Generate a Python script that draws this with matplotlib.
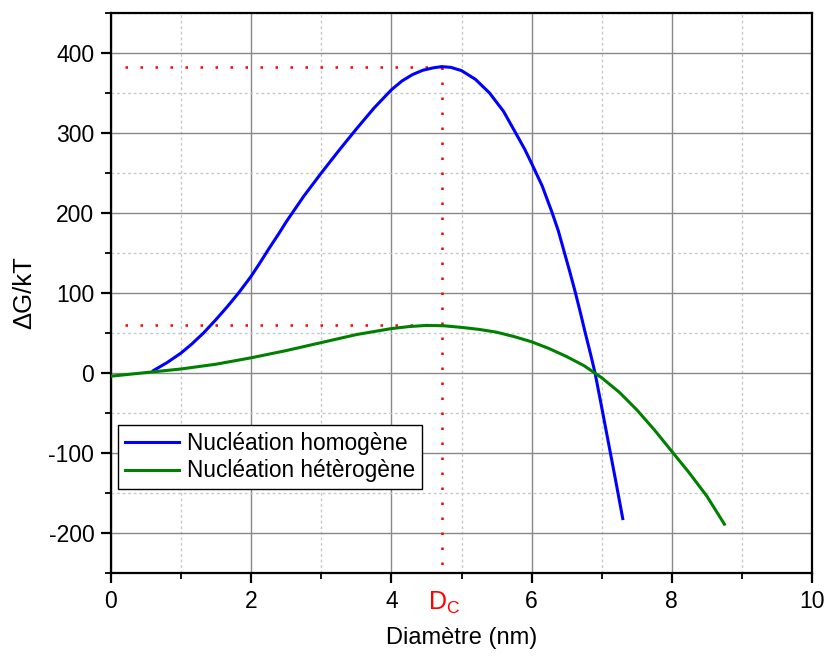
import matplotlib
matplotlib.use("Agg")
import matplotlib.pyplot as plt
from matplotlib.ticker import MultipleLocator

plt.rcParams['font.family'] = ['Liberation Sans', 'DejaVu Sans']
plt.rcParams['axes.unicode_minus'] = False

# Homogeneous nucleation curve
homo_d = [0.605, 0.8, 1.0, 1.15, 1.32, 1.5, 1.66, 1.82, 2.0, 2.12, 2.25, 2.4, 2.5,
          2.75, 3.0, 3.25, 3.5, 3.75, 4.0, 4.15, 4.3, 4.45, 4.6, 4.72, 4.85,
          5.0, 5.2, 5.4, 5.6, 5.76, 5.9, 6.0, 6.15, 6.286, 6.38, 6.46, 6.54,
          6.62, 6.7, 6.76, 6.84, 6.905, 7.0, 7.1, 7.2, 7.3]
homo_g = [3, 13, 25, 36, 50, 67, 83, 100, 121, 137, 155, 175, 189,
          221, 250, 278, 305, 331, 354, 365, 373, 378.5, 381.5, 383, 382,
          378, 367, 350, 327, 302, 280, 262, 234, 202, 178, 153, 128,
          102, 74, 52, 24, 0, -43, -89, -135, -182]

# Heterogeneous nucleation curve
het_d = [0.0, 0.5, 1.0, 1.5, 2.0, 2.5, 3.0, 3.5, 4.0, 4.25, 4.5, 4.75, 5.0,
         5.25, 5.5, 5.75, 6.0, 6.25, 6.5, 6.75, 6.9, 7.0, 7.25, 7.5, 7.75,
         8.0, 8.25, 8.5, 8.75]
het_g = [-4, 0.5, 5, 11, 19, 28, 38, 48, 55.5, 58, 59.5, 59, 57,
         54.5, 51, 45.5, 39, 30.5, 20.5, 9, 0, -6, -24, -46, -71,
         -98, -125, -154, -189]

d_crit = 4.72
g_homo_max = 383
g_het_max = 60
x_guide_start = 0.2

fig = plt.figure(figsize=(8.27, 6.57), dpi=100)
ax = fig.add_axes([0.1342, 0.1279, 0.8477, 0.8523])

ax.plot(homo_d, homo_g, color='#0000ff', lw=2.2, label='Nucléation homogène', zorder=4)
ax.plot(het_d, het_g, color='#008000', lw=2.2, label='Nucléation hétèrogène', zorder=4)

dot = (0, (1, 5))
ax.plot([x_guide_start, d_crit], [g_homo_max, g_homo_max], color='red', lw=1.8, ls=dot, zorder=3)
ax.plot([x_guide_start, d_crit], [g_het_max, g_het_max], color='red', lw=1.8, ls=dot, zorder=3)
ax.plot([d_crit, d_crit], [g_homo_max, -250], color='red', lw=1.8, ls=dot, zorder=3, clip_on=False)

ax.set_xlim(0, 10)
ax.set_ylim(-250, 450)
ax.xaxis.set_major_locator(MultipleLocator(2))
ax.xaxis.set_minor_locator(MultipleLocator(1))
ax.yaxis.set_major_locator(MultipleLocator(100))
ax.yaxis.set_minor_locator(MultipleLocator(50))
ax.set_yticks([-200, -100, 0, 100, 200, 300, 400])

ax.grid(which='major', color='#888888', lw=1.0, ls='-', zorder=0)
ax.grid(which='minor', color='#c8c8c8', lw=1.0, ls=(0, (2, 2)), zorder=0)
ax.set_axisbelow(True)

for s in ax.spines.values():
    s.set_linewidth(1.6)
    s.set_color('black')

ax.tick_params(which='major', direction='out', length=7, width=1.6, labelsize=16.5, pad=5)
ax.tick_params(which='minor', direction='out', length=4, width=1.3)

ax.set_xlabel('Diamètre (nm)', fontsize=17, labelpad=10)
ax.set_ylabel('ΔG/kT', fontsize=18.5, labelpad=9)

ax.text(4.75, -0.03, r'$\mathregular{D_C}$', color='red', fontsize=18,
        transform=ax.get_xaxis_transform(), ha='center', va='top')

leg = ax.legend(loc='upper left', bbox_to_anchor=(0.01, 0.264), fontsize=16.3,
                frameon=True, fancybox=False, edgecolor='black', framealpha=1,
                handlelength=2.4, borderpad=0.3, labelspacing=0.2, handletextpad=0.35,
                borderaxespad=0)
leg.get_frame().set_linewidth(1.0)

fig.savefig('out.png', dpi=100)
